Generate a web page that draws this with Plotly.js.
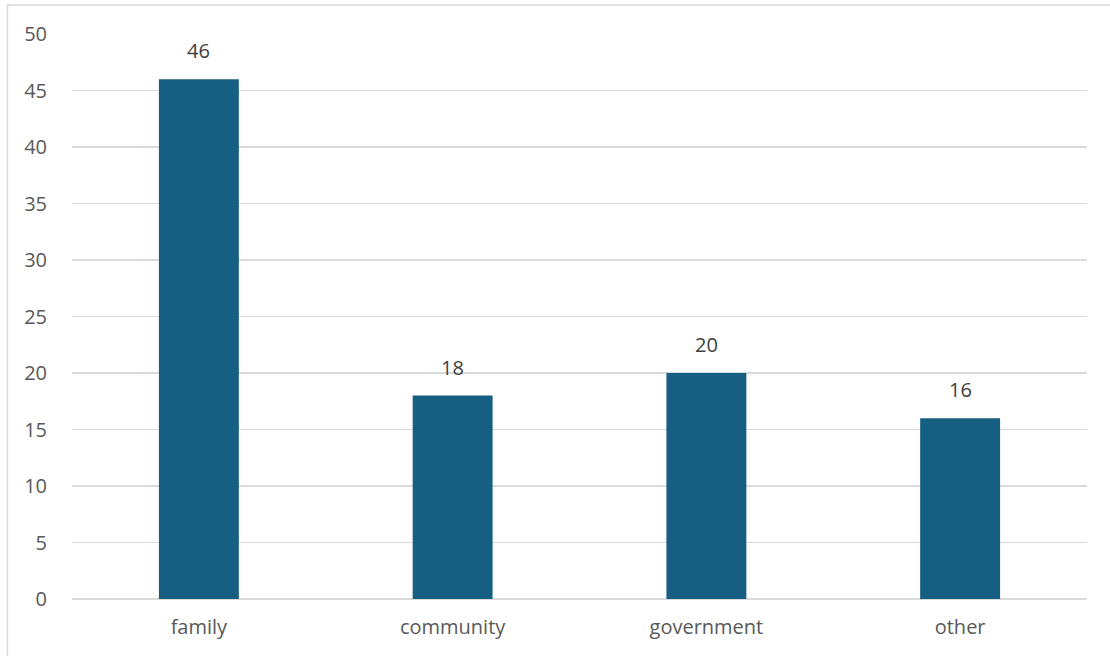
<!DOCTYPE html>
<html>
<head>
<meta charset="utf-8">
<script src="https://cdn.plot.ly/plotly-3.0.1.min.js"></script>
<style>
html,body{margin:0;padding:0;background:#fff;}
#chart{width:1110px;height:656px;}
</style>
</head>
<body>
<div id="chart"></div>
<script>
const categories = ["family", "community", "government", "other"];
const values = [46, 18, 20, 16];
const yTicks = [0, 5, 10, 15, 20, 25, 30, 35, 40, 45, 50];

const W = 1110, H = 656, L = 72, R = 23, T = 34, B = 57;
const pw = W - L - R, ph = H - T - B;
const px = x => (x - L) / pw;
const py = y => (H - B - y) / ph;
const FONT = 'Open Sans, Liberation Sans, sans-serif';

const trace = {
  type: 'bar',
  x: categories,
  y: values,
  marker: {color: '#175F82'},
  hoverinfo: 'none'
};

const labels = categories.map((c, i) => ({
  x: c, y: values[i], xref: 'x', yref: 'y',
  text: String(values[i]),
  showarrow: false,
  yanchor: 'bottom',
  yshift: 13,
  font: {family: FONT, size: 20, color: '#404040'}
}));

const layout = {
  width: W, height: H,
  margin: {l: L, r: R, t: T, b: B, pad: 0},
  paper_bgcolor: '#ffffff',
  plot_bgcolor: '#ffffff',
  bargap: 0.685,
  showlegend: false,
  font: {family: FONT, size: 20, color: '#595959'},
  xaxis: {
    type: 'category',
    showgrid: false,
    zeroline: false,
    showline: false,
    ticks: '',
    ticklabelstandoff: 14,
    tickfont: {family: FONT, size: 20, color: '#595959'}
  },
  yaxis: {
    range: [0, 50],
    tickvals: yTicks,
    ticktext: yTicks.map(String),
    showgrid: true,
    gridcolor: '#d9d9d9',
    gridwidth: 1.5,
    zeroline: true,
    zerolinecolor: '#d9d9d9',
    zerolinewidth: 1.5,
    showline: false,
    ticks: '',
    ticklabelstandoff: 24,
    tickfont: {family: FONT, size: 20, color: '#595959'}
  },
  annotations: labels,
  shapes: [{
    type: 'rect', xref: 'paper', yref: 'paper', layer: 'below',
    x0: px(7.5), x1: px(1120), y0: py(670), y1: py(5),
    line: {color: '#d9d9d9', width: 1.5},
    fillcolor: 'rgba(0,0,0,0)'
  }]
};

Plotly.newPlot('chart', [trace], layout, {staticPlot: true, displayModeBar: false});
</script>
</body>
</html>
